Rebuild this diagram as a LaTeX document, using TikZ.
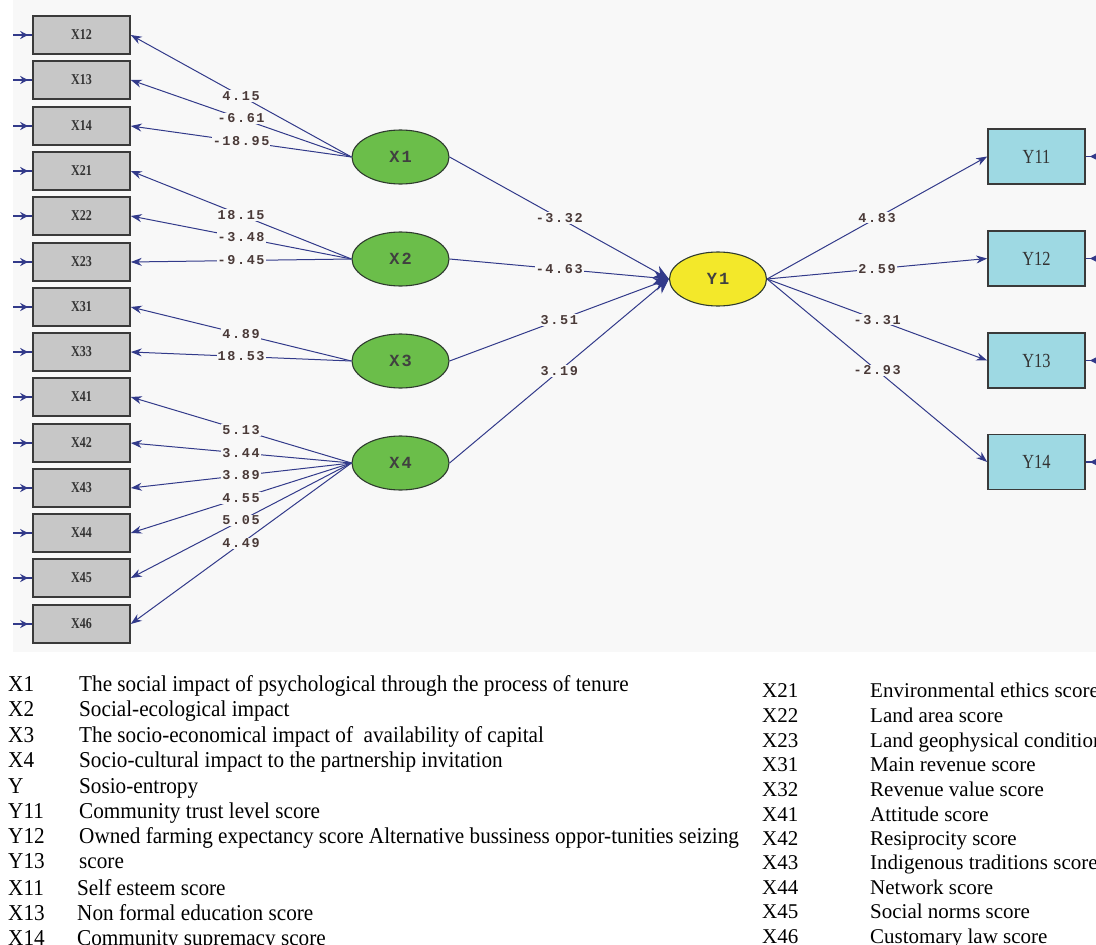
\documentclass[tikz,border=0pt]{standalone}
\usepackage{fontspec}
\usepackage{graphicx}
\setmainfont{Liberation Serif}
\newfontfamily\monofam[LetterSpace=12]{Liberation Mono}
\usetikzlibrary{arrows.meta,shapes.geometric}
\definecolor{navy}{HTML}{323A8A}
\definecolor{boxgray}{HTML}{C7C7C7}
\definecolor{boxedge}{HTML}{3A3A3A}
\definecolor{lgreen}{HTML}{6BBE4A}
\definecolor{lyellow}{HTML}{F3E82A}
\definecolor{ycyan}{HTML}{9ED9E3}
\definecolor{latedge}{HTML}{2E3A2E}
\definecolor{diagbg}{HTML}{F8F8F8}
\definecolor{coefc}{HTML}{4A3A38}
\newcommand\cfnt{\monofam\bfseries\fontsize{13.5}{13.5}\selectfont}
\newcommand\ltfnt{\monofam\bfseries\fontsize{17}{17}\selectfont}
\newcommand\xlfnt{\fontsize{15}{15}\selectfont\bfseries}
\newcommand\ylfnt{\fontsize{20}{20}\selectfont}
\newcommand\lgfnt{\fontsize{21}{25}\selectfont}
\newcommand\xsq[1]{\scalebox{0.8}[1]{#1}}
\newcommand\ysq[1]{\scalebox{0.82}[1]{#1}}
\newcommand\lsq[1]{\scalebox{1.01}[1.08]{#1}}
\begin{document}
\begin{tikzpicture}[x=1pt,y=-1pt,
  xbox/.style={draw=boxedge,line width=1.6pt,fill=boxgray,minimum width=97pt,minimum height=38pt,inner sep=0pt,font=\xlfnt,text=black!80},
  ybox/.style={draw=boxedge,line width=1.6pt,fill=ycyan,minimum width=97pt,minimum height=55pt,inner sep=0pt,font=\ylfnt,text=black!80},
  lat/.style={ellipse,draw=latedge,line width=1.1pt,minimum width=97pt,minimum height=54pt,inner sep=0pt,font=\ltfnt,text=black!75},
  coef/.style={fill=diagbg,inner sep=1pt,text=coefc,font=\cfnt},
  load/.style={draw=navy,line width=1pt,-{Stealth[length=11pt,width=8pt]}},
  struct/.style={draw=navy,line width=1pt,-{Stealth[length=15pt,width=13pt]}},
  errl/.style={draw=navy,line width=1.2pt},
  errh/.style={draw=navy,line width=2.2pt,-{Stealth[length=8pt,width=8pt]}},
  legk/.style={anchor=base west,inner sep=0pt,font=\lgfnt},
  legt/.style={anchor=base west,inner sep=0pt,font=\lgfnt}
]
\useasboundingbox (0,0) rectangle (1096,945);
\clip (0,0) rectangle (1096,945);
\fill[white] (0,0) rectangle (1096,945);
\fill[diagbg] (13,0) rectangle (1096,652);

% observed X boxes
\foreach \n/\y in {X12/35,X13/80,X14/126,X21/171,X22/216,X23/262,X31/307,X33/352,X41/397,X42/443,X43/488,X44/533,X45/578,X46/624}{
  \node[xbox] (b\n) at (81.5,\y) {\xsq{\n}};
  \coordinate (e\n) at (13,\y);
  \draw[errl] (e\n) -- (b\n.west);
  \draw[errh] (e\n) -- ([xshift=-4pt]b\n.west);
}

% latent X
\node[lat,fill=lgreen] (X1) at (400.5,157) {X1};
\node[lat,fill=lgreen] (X2) at (400.5,259) {X2};
\node[lat,fill=lgreen] (X3) at (400.5,361) {X3};
\node[lat,fill=lgreen] (X4) at (400.5,463) {X4};
\node[lat,fill=lyellow] (Y1) at (718,279) {Y1};

% Y boxes
\foreach \n/\y in {Y11/156.5,Y12/258.5,Y13/360.5,Y14/462}{
  \node[ybox] (b\n) at (1036.5,\y) {\ysq{\n}};
  \coordinate (f\n) at (1104,\y);
  \draw[errl] (f\n) -- (b\n.east);
  \draw[errh] (f\n) -- ([xshift=4pt]b\n.east);
}

% loadings
\draw[load] (X1.west) -- node[coef] {4.15} (bX12.east);
\draw[load] (X1.west) -- node[coef] {-6.61} (bX13.east);
\draw[load] (X1.west) -- node[coef] {-18.95} (bX14.east);
\draw[load] (X2.west) -- node[coef] {18.15} (bX21.east);
\draw[load] (X2.west) -- node[coef] {-3.48} (bX22.east);
\draw[load] (X2.west) -- node[coef] {-9.45} (bX23.east);
\draw[load] (X3.west) -- node[coef] {4.89} (bX31.east);
\draw[load] (X3.west) -- node[coef] {18.53} (bX33.east);
\draw[load] (X4.west) -- node[coef] {5.13} (bX41.east);
\draw[load] (X4.west) -- node[coef] {3.44} (bX42.east);
\draw[load] (X4.west) -- node[coef] {3.89} (bX43.east);
\draw[load] (X4.west) -- node[coef] {4.55} (bX44.east);
\draw[load] (X4.west) -- node[coef] {5.05} (bX45.east);
\draw[load] (X4.west) -- node[coef] {4.49} (bX46.east);

% structural paths
\draw[struct] (X1.east) -- node[coef] {-3.32} (Y1.west);
\draw[struct] (X2.east) -- node[coef] {-4.63} (Y1.west);
\draw[struct] (X3.east) -- node[coef] {3.51} (Y1.west);
\draw[struct] (X4.east) -- node[coef] {3.19} (Y1.west);

% Y loadings
\draw[load] (Y1.east) -- node[coef] {4.83} (bY11.west);
\draw[load] (Y1.east) -- node[coef] {2.59} (bY12.west);
\draw[load] (Y1.east) -- node[coef] {-3.31} (bY13.west);
\draw[load] (Y1.east) -- node[coef] {-2.93} (bY14.west);

% legend left
\foreach \k/\t/\b/\tx [count=\i] in {
 X1/The social impact of psychological through the process of tenure/691.5/79,
 X2/Social-ecological impact/716.5/79,
 X3/The socio-economical impact of\ \ availability of capital/742.5/79,
 X4/Socio-cultural impact to the partnership invitation/767.5/79,
 Y/Sosio-entropy/793.5/79,
 Y11/Community trust level score/818.5/79,
 Y12/Owned farming expectancy score Alternative bussiness oppor-tunities seizing/843.5/79,
 Y13/score/868.5/79,
 X11/Self esteem score/895.5/77,
 X13/Non formal education score/920.5/77,
 X14/Community supremacy score/945.5/77}{
  \node[legk] (lk\i) at (8,\b) {\lsq{\k}};
  \node[legt] (lt\i) at (\tx,\b) {\lsq{\t}};
}
% legend right
\foreach \k/\t/\b [count=\i] in {
 X21/Environmental ethics score/697.5,
 X22/Land area score/722.5,
 X23/Land geophysical condition/747.5,
 X31/Main revenue score/771.5,
 X32/Revenue value score/796.5,
 X41/Attitude score/821.5,
 X42/Resiprocity score/845.5,
 X43/Indigenous traditions score/869.5,
 X44/Network score/894.5,
 X45/Social norms score/918.5,
 X46/Customary law score/943.5}{
  \node[legk] (rk\i) at (762,\b) {\k};
  \node[legt] (rt\i) at (870,\b) {\t};
}
\end{tikzpicture}
\end{document}
